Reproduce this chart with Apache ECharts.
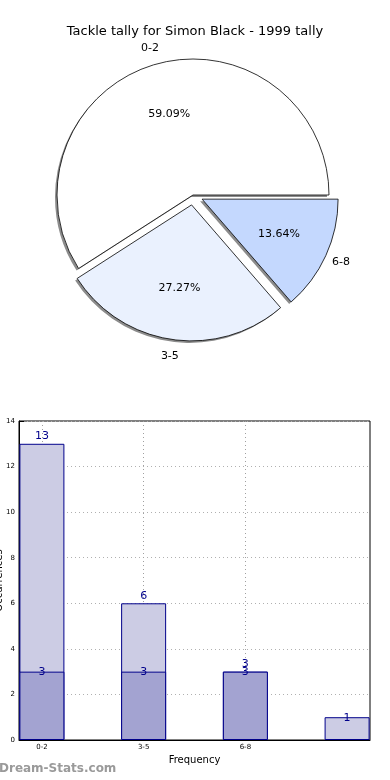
<!DOCTYPE html>
<html>
<head>
<meta charset="utf-8">
<script src="https://cdn.jsdelivr.net/npm/echarts@6/dist/echarts.min.js"></script>
<style>
  html, body { margin: 0; padding: 0; background: #fff; }
  #main { width: 390px; height: 780px; }
</style>
</head>
<body>
<div id="main"></div>
<script>
// tally buckets
const pieNames = ['0-2', '3-5', '6-8']
const pieValues = [13, 6, 3]
const pieColors = ['#ffffff', '#eaf1fe', '#c4d8fe']
const pieExploded = [false, true, true]

const barLabels = ['0-2', '3-5', '6-8', '']
const lightValues = [13, 6, 3, 1]
const darkValues = [3, 3, 3, null]

const font = 'DejaVu Sans'
const R = 136
const center = [193, 195]

const chart = echarts.init(document.getElementById('main'))

function pieData(color) {
    return pieNames.map((n, i) => ({
        name: n,
        value: pieValues[i],
        selected: pieExploded[i],
        itemStyle: { color: color || pieColors[i] }
    }))
}

const pieCommon = {
    type: 'pie',
    center: center,
    startAngle: 0,
    clockwise: false,
    selectedMode: 'multiple',
    selectedOffset: 10,
    silent: true,
    animation: false,
    labelLine: { show: false },
    emphasis: { disabled: true }
}

chart.setOption({
    animation: false,
    title: {
        text: 'Tackle tally for Simon Black - 1999 tally',
        left: 'center',
        top: 20,
        textStyle: { fontFamily: font, fontSize: 13, fontWeight: 'normal', color: '#000' }
    },
    grid: {
        left: 19, right: 20, top: 421, bottom: 40,
        outerBoundsMode: 'none',
        containLabel: false,
        show: true, borderColor: '#000', borderWidth: 1
    },
    xAxis: {
        type: 'value',
        min: -0.225,
        max: 3.225,
        name: 'Frequency',
        nameLocation: 'middle',
        nameGap: 15,
        nameMoveOverlap: false,
        nameTextStyle: { fontFamily: font, fontSize: 10, color: '#000' },
        axisLine: { show: true, onZero: false, lineStyle: { color: '#000' } },
        axisTick: { show: true, inside: true, customValues: [0, 1, 2], lineStyle: { color: '#000' } },
        axisLabel: {
            customValues: [0, 1, 2],
            formatter: v => barLabels[Math.round(v)] || '',
            fontFamily: font, fontSize: 7, color: '#000', margin: 4
        },
        splitLine: { show: true, lineStyle: { color: '#a0a0a0', type: [1, 3] } }
    },
    yAxis: {
        type: 'value',
        min: 0, max: 14, interval: 2,
        name: 'Occurrences',
        nameLocation: 'middle',
        nameRotate: 90,
        nameGap: 15,
        nameMoveOverlap: false,
        nameTextStyle: { fontFamily: font, fontSize: 10, color: '#000' },
        axisLine: { show: true, onZero: false, lineStyle: { color: '#000' } },
        axisTick: { show: true, inside: true, lineStyle: { color: '#000' } },
        axisLabel: { fontFamily: font, fontSize: 7, color: '#000', margin: 4 },
        splitLine: { show: true, lineStyle: { color: '#b0b0b0', type: [1, 3] } }
    },
    graphic: [{
        type: 'text',
        left: -1,
        top: 763,
        style: { text: 'Dream-Stats.com', fill: '#9a9a9a', font: 'bold 12px "DejaVu Sans"' }
    }],
    series: [
        // shadow copy, shifted down-left
        Object.assign({}, pieCommon, {
            center: [center[0] - 2, center[1] + 2],
            radius: [0, R],
            data: pieData('#8c8c8c'),
            label: { show: false },
            itemStyle: { borderWidth: 0 },
            z: 1
        }),
        Object.assign({}, pieCommon, {
            radius: [0, R],
            data: pieData(),
            label: { show: false },
            itemStyle: { borderColor: '#000', borderWidth: 0.8 },
            z: 2
        }),
        Object.assign({}, pieCommon, {
            radius: [R * 0.45, R * 0.75],
            data: pieData('transparent'),
            itemStyle: { borderWidth: 0 },
            label: { show: true, position: 'inside', formatter: '{d}%', fontFamily: font, fontSize: 11, color: '#000' },
            z: 3
        }),
        Object.assign({}, pieCommon, {
            radius: [R, R * 1.2],
            data: pieData('transparent'),
            itemStyle: { borderWidth: 0 },
            label: { show: true, position: 'inside', formatter: '{b}', fontFamily: font, fontSize: 11, color: '#000' },
            z: 3
        }),
        {
            type: 'bar',
            barWidth: 45,
            barGap: '-100%',
            data: lightValues.map((v, i) => {
                const item = { value: [i, v] }
                if (darkValues[i] == null) item.label = { offset: [0, 8] }
                return item
            }),
            itemStyle: { color: '#cccce4', borderColor: '#00008b', borderWidth: 1 },
            label: { show: true, position: 'top', distance: 2, fontFamily: font, fontSize: 11, color: '#00008b' },
            z: 2
        },
        {
            type: 'bar',
            barWidth: 45,
            barGap: '-100%',
            data: barLabels.map((_, i) => i).filter(i => darkValues[i] != null).map(i => [i, darkValues[i]]),
            itemStyle: { color: '#a3a3d1', borderColor: '#00008b', borderWidth: 1 },
            label: { show: true, position: 'top', distance: 2, offset: [0, 8], fontFamily: font, fontSize: 11, color: '#00008b' },
            z: 3
        }
    ]
})
</script>
</body>
</html>
